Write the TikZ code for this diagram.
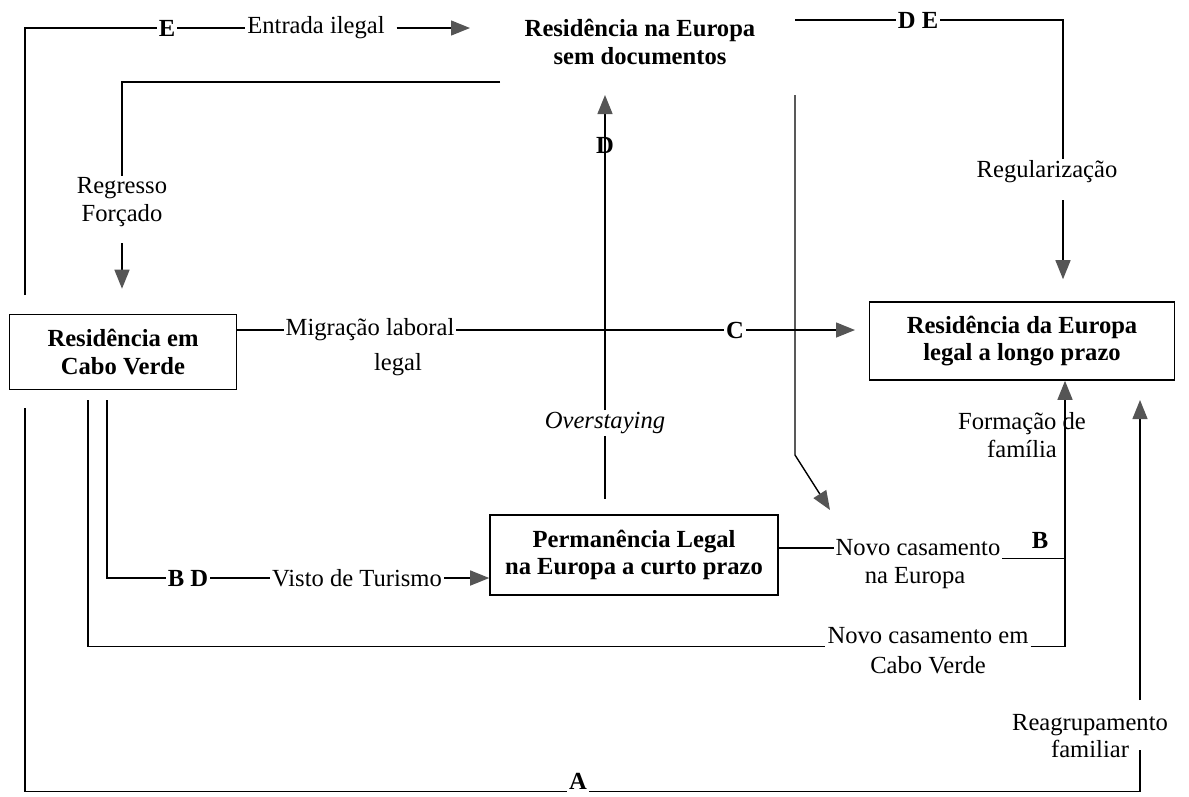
\documentclass[tikz,border=0pt]{standalone}
\usepackage{fontspec}
\setmainfont{Liberation Serif}
\usetikzlibrary{arrows.meta}
\tikzset{
  base-text/.style={
    font=\fontsize{14}{15.5}\selectfont,
    inner sep=1pt,
    align=center
  },
  bold-text/.style={
    base-text,
    font=\fontsize{14}{15.5}\selectfont\bfseries
  },
  state-box/.style={
    bold-text,
    draw=black,
    line width=0.9pt
  },
  tag-letter/.style={bold-text, inner sep=1pt},
  route/.style={line width=0.8pt, draw=black},
  route-arrow/.style={route, -{Triangle[length=0.38cm,width=0.3cm,color=arrowgray]}}
}
\definecolor{arrowgray}{RGB}{85,85,85}

\begin{document}
\begin{tikzpicture}[x=0.02cm,y=-0.02cm]
  \useasboundingbox (0,0) rectangle (1189,796);
  % States
  \node[state-box, minimum width=4.54cm, minimum height=1.5cm] (cv) at (123,352) {Residência em\\Cabo Verde};
  \node[state-box, minimum width=6.1cm, minimum height=1.56cm] (longo) at (1022,341) {Residência da Europa\\legal a longo prazo};
  \node[state-box, minimum width=5.76cm, minimum height=1.6cm] (curto) at (634,555) {Permanência Legal\\na Europa a curto prazo};
  \node[bold-text] (semdoc) at (640,42) {Residência na Europa\\sem documentos};
  % Labels
  \node[tag-letter] (tagE) at (167,28) {E};
  \node[base-text] (entrada) at (316,28) {Entrada ilegal};
  \node[tag-letter] (tagDE) at (918,20) {D E};
  \node[base-text] (regul) at (1047,172) {Regularização};
  \node[base-text] (regresso) at (122,202) {Regresso\\Forçado};
  \node[base-text] (migr) at (370,330) {Migração laboral};
  \node[base-text] (migrB) at (398,365) {legal};
  \node[tag-letter] (tagC) at (735,330) {C};
  \node[base-text] (over) at (605,423) {\textit{Overstaying}};
  \node[tag-letter] (tagBD) at (188,578) {B D};
  \node[base-text] (visto) at (357,578) {Visto de Turismo};
  \node[base-text] (ncE) at (918,548) {Novo casamento};
  \node[base-text] (ncEb) at (915,578) {na Europa};
  \node[tag-letter] (tagB) at (1040,540) {B};
  \node[base-text] (ncCV) at (928,636) {Novo casamento em};
  \node[base-text] (ncCVb) at (928,665) {Cabo Verde};
  \node[base-text] (form) at (1022,435) {Formação de\\família};
  \node[base-text] (reag) at (1090,736) {Reagrupamento\\familiar};
  \node[tag-letter] (tagA) at (578,781) {A};
  % Free ends
  \coordinate (eStart) at (25,295);
  \coordinate (entTip) at (470,28);
  \coordinate (deStart) at (795,20);
  \coordinate (regX) at (1063,0);
  \coordinate (backStart) at (500,82);
  \coordinate (dTip) at (605,95);
  \coordinate (diagTop) at (795,95);
  \coordinate (diagBend) at (795,455);
  \coordinate (diagTip) at (830,510);
  \coordinate (cTip) at (855,330);
  \coordinate (vA) at (25,408);
  \coordinate (vCV) at (88,400);
  \coordinate (vBD) at (107,400);
  \coordinate (famX) at (1065,0);
  \coordinate (reagLow) at (1140,750);
  \coordinate (reagHigh) at (1140,700);
  \coordinate (reagTip) at (1140,400);
  % Edges
  \draw[route] (eStart) |- (tagE.west);
  \draw[route] (tagE.east) -- (entrada.west);
  \draw[route-arrow, shorten <=0.2cm] (entrada.east) -- (entTip);
  \draw[route] (deStart) -- (tagDE.west);
  \draw[route] (tagDE.east) -| (regul.north -| regX);
  \draw[route-arrow, shorten <=0.3cm, shorten >=0.44cm] (regul.south -| regX) -- (longo.north -| regX);
  \draw[route] (backStart) -| (regresso.north);
  \draw[route-arrow, shorten <=0.3cm, shorten >=0.5cm] (regresso.south) -- (regresso.south |- cv.north);
  \draw[route] (cv.east |- migr) -- (migr.west);
  \draw[route] (migr.east) -- (tagC.west);
  \draw[route-arrow] (tagC.east) -- (cTip);
  \draw[route-arrow] (over.north) -- (dTip);
  \node[tag-letter] (tagD) at (605,145) {D};
  \draw[route, shorten >=0.3cm] (over.south) -- (curto.north -| over);
  \draw[route-arrow] (diagTop) -- (diagBend) -- (diagTip);
  \draw[route] (vBD) |- (tagBD.west);
  \draw[route] (tagBD.east) -- (visto.west);
  \draw[route-arrow] (visto.east) -- (curto.west |- visto);
  \draw[route] (curto.east |- ncE) -- (ncE.west);
  \draw[route] (ncE.south east) -- (ncE.south east -| famX);
  \draw[route] (vCV) |- (ncCV.south west);
  \draw[route-arrow] (ncCV.south east) -| (longo.south -| famX);
  \draw[route] (vA) |- (tagA.south west);
  \draw[route] (tagA.south east) -| (reagLow);
  \draw[route-arrow] (reagHigh) -- (reagTip);

\end{tikzpicture}
\end{document}
